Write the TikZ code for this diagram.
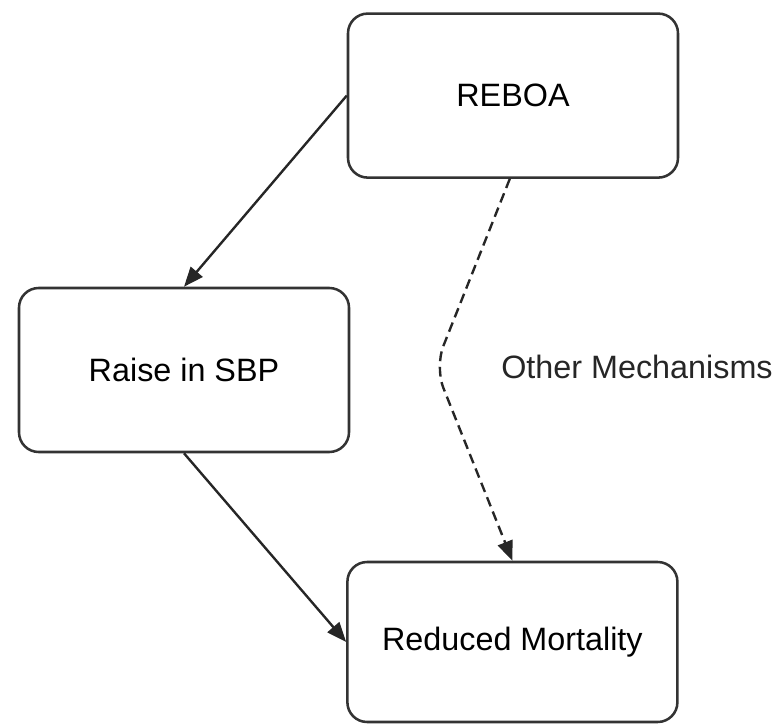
\documentclass[tikz,border=0pt]{standalone}
\usepackage{fontspec}
\setmainfont{Liberation Sans}
\usetikzlibrary{arrows, arrows.meta}
\usetikzlibrary{calc}

\begin{document}
\begin{tikzpicture}[
    box/.style={draw=black!80, line width=1.8pt, rounded corners=14pt, minimum width=8.25cm, minimum height=4.1cm, font=\fontsize{23}{28}\selectfont},
    link/.style={draw=black!85, line width=1.7pt, -{Triangle[length=14pt, width=11pt]}}
  ]
    \useasboundingbox (0,0) rectangle (19.475,-18.1);

    \node[box] (reboa) at (12.825,-2.39) {REBOA};
    \node[box] (sbp) at (4.6,-9.25) {Raise in SBP};
    \node[box, minimum height=4.0cm] (mortality) at (12.81,-16.05) {Reduced Mortality};
    \node[font=\fontsize{23}{28}\selectfont, text=black!85] (other) at (15.925,-9.175) {Other Mechanisms};

    \coordinate (bend) at (10.875,-9.175);

    \draw[link] (reboa.west) -- (sbp.north);
    \draw[link] (sbp.south) -- (mortality.west);
    \draw[link, dash pattern=on 7pt off 4pt, rounded corners=16pt] ($(reboa.south)+(-0.08,0)$) -- (bend) -- (mortality.north);
  \end{tikzpicture}
\end{document}
